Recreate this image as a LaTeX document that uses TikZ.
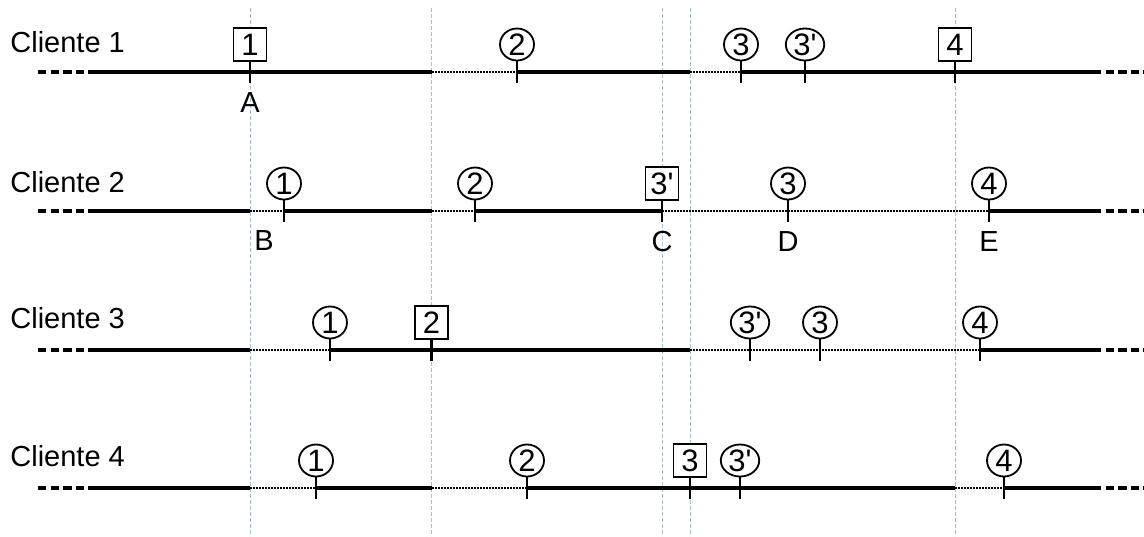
\documentclass[tikz,border=0pt]{standalone}
\usepackage{fontspec}
\setmainfont{Liberation Sans}
\usepackage{xcolor}
\usetikzlibrary{shapes.geometric, positioning}
\definecolor{guidegray}{HTML}{A9BECD}

\begin{document}
\begin{tikzpicture}[
    x=0.5pt, y=-0.5pt,
    node distance=10.8pt,
    font=\fontsize{14.5}{17}\selectfont,
    client/.style={anchor=west, inner sep=0pt},
    held/.style={line width=2pt},
    wait/.style={line width=1.4pt, dash pattern=on 1pt off 0.5pt},
    more/.style={line width=1.7pt, dash pattern=on 4.2pt off 2.1pt},
    guide/.style={draw=guidegray, line width=0.4pt, dash pattern=on 2pt off 1pt},
    circmark/.style={
        draw, ellipse, line width=0.9pt, fill=white,
        minimum width=17pt, minimum height=16pt,
        inner xsep=1pt, inner ysep=0pt,
        font=\fontsize{15.5}{17}\selectfont
    },
    boxmark/.style={
        draw, rectangle, line width=0.8pt, fill=white,
        minimum size=16.5pt, inner sep=0pt,
        font=\fontsize{15.5}{17}\selectfont
    },
    tick/.style={line width=1.2pt},
    letter/.style={inner sep=0pt}
]
\useasboundingbox (0,0) rectangle (1144,536);

% guides
\draw[guide] (250,8) -- (250,536);
\draw[guide] (431.5,8) -- (431.5,536);
\draw[guide] (662,8) -- (662,536);
\draw[guide] (690,8) -- (690,536);
\draw[guide] (955,8) -- (955,536);

% Cliente 1
\node[client] (cli1) at (10,42) {Cliente 1};
\draw[more] (38,72) -- (88,72);
\draw[held] (88,72) -- (431.5,72);
\draw[wait] (431.5,72) -- (517,72);
\draw[held] (517,72) -- (690,72);
\draw[wait] (690,72) -- (741,72);
\draw[held] (741,72) -- (1093,72);
\draw[more] (1093,72) -- (1144,72);
\coordinate (c1t1) at (250,83);
\coordinate (c1t2) at (517,83);
\coordinate (c1t3) at (741,83);
\coordinate (c1t3p) at (805,83);
\coordinate (c1t4) at (955,83);
\node[boxmark, above=10.5pt of c1t1] (c1m1) {1};
\node[circmark, above=of c1t2] (c1m2) {2};
\node[circmark, above=of c1t3] (c1m3) {3};
\node[circmark, above=of c1t3p] (c1m3p) {3\textquotesingle};
\node[boxmark, above=10.5pt of c1t4] (c1m4) {4};
\node[letter, below=4.5pt of c1t1] (ptA) {A};

% Cliente 2
\node[client] (cli2) at (10,182) {Cliente 2};
\draw[more] (38,211) -- (88,211);
\draw[held] (88,211) -- (250,211);
\draw[wait] (250,211) -- (284,211);
\draw[held] (284,211) -- (431.5,211);
\draw[wait] (431.5,211) -- (475,211);
\draw[held] (475,211) -- (662,211);
\draw[wait] (662,211) -- (989,211);
\draw[held] (989,211) -- (1093,211);
\draw[more] (1093,211) -- (1144,211);
\coordinate (c2t1) at (284,222);
\coordinate (c2t2) at (475,222);
\coordinate (c2t3p) at (662,222);
\coordinate (c2t3) at (788,222);
\coordinate (c2t4) at (989,222);
\node[circmark, above=of c2t1] (c2m1) {1};
\node[circmark, above=of c2t2] (c2m2) {2};
\node[boxmark, above=10.5pt of c2t3p] (c2m3p) {3\textquotesingle};
\node[circmark, above=of c2t3] (c2m3) {3};
\node[circmark, above=of c2t4] (c2m4) {4};
\node[letter, anchor=north] (ptB) at (264,230) {B};
\node[letter, below=4.5pt of c2t3p] (ptC) {C};
\node[letter, below=4.5pt of c2t3] (ptD) {D};
\node[letter, below=4.5pt of c2t4] (ptE) {E};

% Cliente 3
\node[client] (cli3) at (10,318) {Cliente 3};
\draw[more] (38,350) -- (88,350);
\draw[held] (88,350) -- (250,350);
\draw[wait] (250,350) -- (330,350);
\draw[held] (330,350) -- (690,350);
\draw[wait] (690,350) -- (980,350);
\draw[held] (980,350) -- (1093,350);
\draw[more] (1093,350) -- (1144,350);
\coordinate (c3t1) at (330,361);
\coordinate (c3t2) at (431.5,361);
\coordinate (c3t3p) at (750,361);
\coordinate (c3t3) at (820,361);
\coordinate (c3t4) at (980,361);
\node[circmark, above=of c3t1] (c3m1) {1};
\node[boxmark, above=10.5pt of c3t2] (c3m2) {2};
\node[circmark, above=of c3t3p] (c3m3p) {3\textquotesingle};
\node[circmark, above=of c3t3] (c3m3) {3};
\node[circmark, above=of c3t4] (c3m4) {4};

% Cliente 4
\node[client] (cli4) at (10,456) {Cliente 4};
\draw[more] (38,488) -- (88,488);
\draw[held] (88,488) -- (250,488);
\draw[wait] (250,488) -- (316,488);
\draw[held] (316,488) -- (431.5,488);
\draw[wait] (431.5,488) -- (527,488);
\draw[held] (527,488) -- (955,488);
\draw[wait] (955,488) -- (1004,488);
\draw[held] (1004,488) -- (1093,488);
\draw[more] (1093,488) -- (1144,488);
\coordinate (c4t1) at (316,499);
\coordinate (c4t2) at (527,499);
\coordinate (c4t3) at (690,499);
\coordinate (c4t3p) at (740,499);
\coordinate (c4t4) at (1004,499);
\node[circmark, above=of c4t1] (c4m1) {1};
\node[circmark, above=of c4t2] (c4m2) {2};
\node[boxmark, above=10.5pt of c4t3] (c4m3) {3};
\node[circmark, above=of c4t3p] (c4m3p) {3\textquotesingle};
\node[circmark, above=of c4t4] (c4m4) {4};

% ticks
\draw[tick] (c1m1) -- (c1t1);
\draw[tick] (c1m2) -- (c1t2);
\draw[tick] (c1m3) -- (c1t3);
\draw[tick] (c1m3p) -- (c1t3p);
\draw[tick] (c1m4) -- (c1t4);
\draw[tick] (c2m1) -- (c2t1);
\draw[tick] (c2m2) -- (c2t2);
\draw[tick] (c2m3p) -- (c2t3p);
\draw[tick] (c2m3) -- (c2t3);
\draw[tick] (c2m4) -- (c2t4);
\draw[tick] (c3m1) -- (c3t1);
\draw[tick] (c3m2) -- (c3t2);
\draw[tick] (c3m3p) -- (c3t3p);
\draw[tick] (c3m3) -- (c3t3);
\draw[tick] (c3m4) -- (c3t4);
\draw[tick] (c4m1) -- (c4t1);
\draw[tick] (c4m2) -- (c4t2);
\draw[tick] (c4m3) -- (c4t3);
\draw[tick] (c4m3p) -- (c4t3p);
\draw[tick] (c4m4) -- (c4t4);

\end{tikzpicture}
\end{document}
